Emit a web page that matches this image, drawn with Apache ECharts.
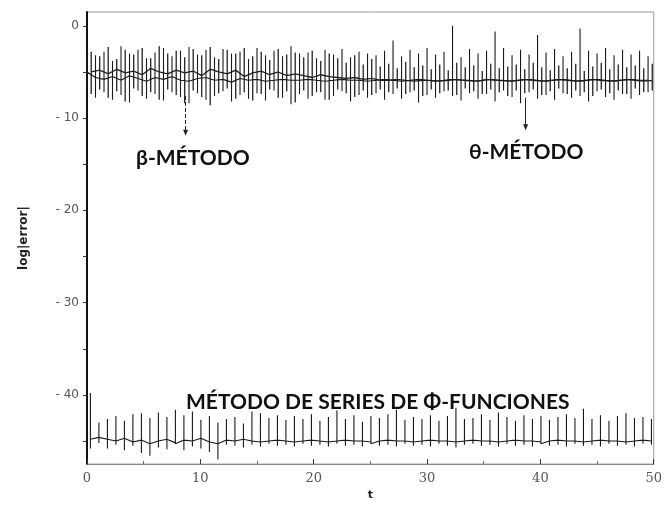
<!DOCTYPE html>
<html>
<head>
<meta charset="utf-8">
<script src="https://cdn.jsdelivr.net/npm/echarts@6/dist/echarts.min.js"></script>
<style>html,body{margin:0;padding:0;background:#fff}#c{width:665px;height:506px}</style>
</head>
<body>
<div id="c"></div>
<script>
// spacing of the spikes (one spike every 0.75 time units)
var spikeStep = 0.75;
var xTicks = [0, 10, 20, 30, 40, 50];
var yTicks = [0, -10, -20, -30, -40];
var yMinorTicks = [-5, -15, -25, -35, -45];

// each triple = [baseline, spike top, spike bottom] at one spike time
var betaMetodo = [
-5.0,-2.8,-7.4, -4.8,-3.3,-6.9, -5.2,-2.3,-7.8, -4.7,-3.6,-7.1, -5.1,-2.6,-8.2,
-4.9,-3.1,-6.8, -5.3,-2.4,-7.6, -4.6,-3.5,-7.2, -5.0,-2.2,-8.0, -5.2,-3.0,-6.9,
-4.8,-2.7,-7.5, -5.1,-3.4,-8.4, -4.9,-2.5,-7.0, -5.4,-3.2,-7.7, -4.7,-2.3,-8.6,
-5.0,-3.6,-7.3, -5.2,-2.6,-6.8, -4.8,-3.0,-7.9, -5.5,-2.4,-7.2, -5.1,-3.3,-8.1,
-4.9,-2.8,-7.4, -5.3,-3.7,-6.9, -5.0,-2.5,-7.8, -5.4,-3.1,-7.1, -5.2,-2.9,-8.3,
-5.4,-3.4,-7.0, -5.6,-2.7,-7.6, -5.3,-3.8,-7.2, -5.5,-3.0,-8.0, -5.6,-3.5,-6.9,
-5.7,-4.0,-7.3, -5.6,-3.2,-7.7, -5.8,-4.2,-7.0, -5.7,-3.6,-7.5, -5.9,-4.4,-6.9,
-5.9,-4.1,-7.2, -5.8,-4.6,-6.8, -5.9,-3.9,-7.4, -6.0,-4.5,-7.0, -5.9,-4.3,-7.6,
-5.9,-4.7,-6.9, -6.0,-4.2,-7.3, -5.9,-4.8,-7.0, -5.8,-4.0,-7.5, -5.9,-4.5,-6.8,
-6.0,-4.3,-7.1, -5.9,-4.9,-7.4, -5.8,-4.1,-6.9, -5.9,-4.6,-7.2, -6.0,-4.4,-7.6,
-5.9,-4.2,-7.0, -5.8,-4.7,-7.3, -5.9,-4.0,-6.9, -6.0,-4.5,-7.5, -5.9,-4.8,-7.1,
-5.8,-4.3,-6.8, -5.9,-4.6,-7.4, -6.0,-4.1,-7.0, -5.9,-4.9,-7.2, -5.8,-4.4,-7.6,
-5.9,-4.0,-6.9, -6.0,-4.7,-7.3, -5.9,-4.2,-7.0, -5.8,-4.5,-7.4, -5.9,-4.3,-6.8,
-6.0,-4.6,-7.2, -5.9,-4.1,-7.0
];

var thetaMetodo = [
-5.0,-2.5,-6.5, -5.6,-3.2,-7.8, -5.8,-2.8,-7.2, -5.5,-3.8,-8.0, -5.9,-2.2,-7.5,
-5.4,-3.0,-8.3, -5.7,-2.6,-7.0, -6.0,-3.5,-7.9, -5.6,-2.9,-7.4, -5.8,-2.4,-8.1,
-5.5,-3.3,-7.2, -5.9,-2.7,-7.7, -6.0,-2.3,-8.4, -5.7,-3.1,-7.3, -5.6,-2.6,-8.0,
-5.9,-3.4,-7.6, -5.8,-2.5,-7.1, -6.1,-3.0,-8.2, -5.7,-2.8,-7.5, -5.9,-3.6,-7.9,
-5.8,-2.4,-7.3, -6.0,-3.2,-8.1, -5.9,-2.7,-7.0, -5.8,-3.3,-7.8, -5.9,-2.2,-8.5,
-5.9,-3.0,-7.4, -5.8,-2.9,-7.9, -5.9,-3.5,-7.2, -6.0,-2.6,-8.0, -5.9,-3.1,-7.6,
-5.8,-2.5,-7.1, -5.9,-3.4,-8.2, -5.9,-2.8,-7.5, -6.0,-3.0,-7.8, -5.9,-3.2,-7.3,
-5.8,-2.7,-8.0, -5.9,-1.6,-7.4, -6.0,-3.3,-7.9, -5.9,-2.6,-7.2, -5.8,-3.0,-8.3,
-5.9,-2.4,-7.5, -6.0,-3.1,-7.8, -5.9,-2.8,-7.1, -5.8,0.0,-7.6, -5.9,-3.4,-8.1,
-5.9,-2.5,-7.3, -6.0,-3.0,-7.9, -5.8,-2.7,-7.4, -5.9,-0.6,-8.2, -5.9,-2.4,-7.0,
-6.0,-3.2,-7.7, -5.9,-2.6,-8.4, -5.8,-3.1,-7.2, -5.9,-1.0,-7.9, -6.0,-2.9,-7.5,
-5.9,-2.5,-8.0, -5.8,-3.3,-7.3, -5.9,-2.8,-7.8, -6.0,-0.3,-7.6, -5.9,-2.7,-8.2,
-5.8,-3.0,-7.1, -5.9,-2.4,-7.7, -6.0,-3.2,-8.0, -5.9,-2.6,-7.4, -5.8,-3.1,-7.9,
-5.9,-2.7,-7.5, -5.9,-3.3,-7.2
];

var phiFunciones = [
-44.8,-39.8,-45.8, -44.6,-43.0,-45.2, -44.8,-42.6,-45.8, -45.0,-42.3,-45.4, -44.7,-42.8,-46.0,
-45.1,-42.1,-45.5, -44.9,-42.0,-46.3, -45.3,-42.5,-46.6, -45.0,-41.9,-45.7, -44.8,-42.4,-45.9,
-45.2,-41.6,-45.3, -44.9,-42.2,-46.0, -45.0,-41.8,-45.6, -44.7,-42.7,-45.8, -45.1,-42.3,-46.2,
-45.3,-43.0,-47.0, -44.9,-42.6,-45.4, -45.0,-42.4,-45.5, -44.8,-43.1,-45.7, -45.0,-41.8,-45.4,
-45.1,-42.0,-45.6, -45.0,-42.5,-45.3, -44.9,-42.2,-45.5, -45.0,-42.7,-45.4, -45.1,-42.3,-45.6,
-45.0,-42.6,-45.3, -44.9,-42.1,-45.5, -45.0,-42.8,-45.4, -45.1,-42.4,-45.6, -45.0,-41.7,-45.3,
-44.9,-42.6,-45.5, -45.0,-42.2,-45.4, -45.0,-42.9,-45.6, -45.1,-42.3,-45.3, -45.0,-42.5,-45.5,
-44.9,-42.1,-45.4, -45.0,-41.6,-45.6, -45.0,-42.7,-45.3, -45.1,-42.4,-45.5, -45.0,-42.6,-45.4,
-44.9,-42.2,-45.6, -45.0,-42.8,-45.3, -45.0,-42.3,-45.5, -45.1,-41.4,-45.7, -45.0,-42.6,-45.4,
-44.9,-42.5,-45.3, -45.0,-42.1,-45.5, -45.0,-42.7,-45.4, -45.1,-41.9,-45.6, -45.0,-42.4,-45.3,
-44.9,-42.8,-45.5, -45.0,-42.2,-45.4, -45.0,-42.6,-45.6, -45.1,-42.3,-45.3, -45.0,-42.7,-45.5,
-44.9,-42.4,-45.4, -45.0,-42.1,-45.6, -45.0,-42.5,-45.3, -45.1,-41.5,-45.5, -45.0,-42.6,-45.4,
-44.9,-42.2,-45.6, -45.0,-42.8,-45.3, -45.0,-42.3,-45.5, -45.1,-42.0,-45.4, -45.0,-42.5,-45.6,
-44.9,-42.4,-45.3, -45.0,-42.6,-45.4
];

var labels = {
  beta: 'β-MÉTODO',
  theta: 'θ-MÉTODO',
  phi: 'MÉTODO DE SERIES DE Φ-FUNCIONES',
  yName: 'log|error|',
  xName: 't'
};

// turn [base, top, bottom] triples into vertical spikes joined along the baseline
function spikes(arr, offset) {
  var out = [];
  for (var i = 0; i + 2 < arr.length; i += 3) {
    var t = Math.min(50, offset + (i / 3) * spikeStep);
    out.push([t, arr[i]], [t, arr[i + 1]], [t, arr[i + 2]], [t, arr[i]]);
  }
  return out;
}

var chart = echarts.init(document.getElementById('c'), null, { renderer: 'canvas' });
var lineStyle = { color: '#1a1a1a', width: 1.1 };
var textStyle = { fill: '#111', fontFamily: 'Lato', fontWeight: 'bold', fontSize: 21 };

chart.setOption({
  animation: false,
  backgroundColor: '#fff',
  grid: { left: 87, right: 2, top: 12, bottom: 28, show: true, borderColor: '#999', borderWidth: 1 },
  xAxis: {
    type: 'value', min: 0, max: 50, interval: 10,
    name: labels.xName, nameLocation: 'middle', nameGap: 17,
    nameTextStyle: { color: '#222', fontSize: 11, fontWeight: 'bold', fontFamily: 'DejaVu Sans' },
    axisLine: { onZero: false, lineStyle: { color: '#777', width: 1, type: 'dotted' } },
    axisTick: { inside: true, length: 5, lineStyle: { color: '#333' } },
    minorTick: { show: true, splitNumber: 2, length: 3, lineStyle: { color: '#666' } },
    axisLabel: { color: '#555', fontFamily: 'DejaVu Serif', fontSize: 13, margin: 8 },
    splitLine: { show: false }
  },
  yAxis: {
    type: 'value', min: -47.5, max: 1.5,
    name: labels.yName, nameLocation: 'middle', nameGap: 57,
    nameTextStyle: { color: '#222', fontSize: 12, fontWeight: 'bold', fontFamily: 'DejaVu Sans' },
    axisLine: { show: true, onZero: false, lineStyle: { color: '#111', width: 2 } },
    axisTick: { show: true, length: 4, customValues: yTicks.concat(yMinorTicks), lineStyle: { color: '#333' } },
    axisLabel: {
      customValues: yTicks, margin: 8,
      color: '#555', fontFamily: 'DejaVu Sans', fontSize: 12,
      formatter: function (v) { return v === 0 ? '0' : '- ' + Math.abs(v); }
    },
    splitLine: { show: false }
  },
  series: [
    { name: 'beta', type: 'line', data: spikes(betaMetodo, 0.37), showSymbol: false, lineStyle: { color: '#222', width: 1.3 }, z: 2,
      markLine: {
        silent: true, symbol: ['none', 'triangle'], symbolSize: [5, 6],
        lineStyle: { color: '#222', type: 'dashed', width: 1 }, label: { show: false },
        data: [[{ coord: [8.7, -7.6] }, { coord: [8.7, -11.6] }]]
      }
    },
    { name: 'theta', type: 'line', data: spikes(thetaMetodo, 0), showSymbol: false, lineStyle: lineStyle, z: 3,
      markLine: {
        silent: true, symbol: ['none', 'triangle'], symbolSize: [5, 6],
        lineStyle: { color: '#222', type: 'solid', width: 1 }, label: { show: false },
        data: [[{ coord: [38.7, -7.8] }, { coord: [38.7, -11.0] }]]
      }
    },
    { name: 'phi', type: 'line', data: spikes(phiFunciones, 0.3), showSymbol: false, lineStyle: lineStyle, z: 3 }
  ],
  graphic: [
    { type: 'text', left: 136, top: 148, style: Object.assign({ text: labels.beta }, textStyle) },
    { type: 'text', left: 469, top: 142, style: Object.assign({ text: labels.theta }, textStyle) },
    { type: 'text', left: 186, top: 392, style: Object.assign({ text: labels.phi }, textStyle) }
  ]
});
</script>
</body>
</html>
